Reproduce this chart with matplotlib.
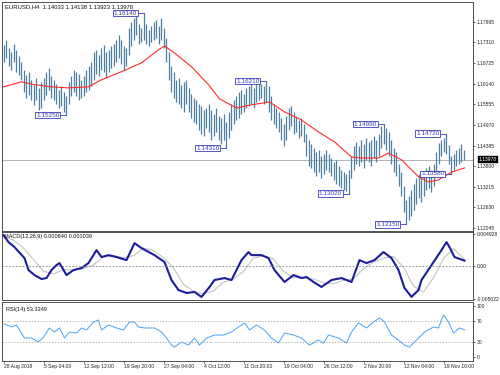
import matplotlib
matplotlib.use('Agg')
import matplotlib.pyplot as plt
import matplotlib.transforms as mtransforms

# ---------------- data ----------------
highs = [1.1724, 1.1738, 1.1716, 1.1704, 1.1727, 1.1710, 1.1693, 1.1676, 1.1653, 1.1639,
         1.1648, 1.1625, 1.1611, 1.1630, 1.1602, 1.1619, 1.1630, 1.1648, 1.1659, 1.1636,
         1.1625, 1.1613, 1.1596, 1.1608, 1.1591, 1.1579, 1.1619, 1.1636, 1.1653, 1.1648,
         1.1642, 1.1625, 1.1636, 1.1653, 1.1665, 1.1676, 1.1704, 1.1710, 1.1696, 1.1716,
         1.1724, 1.1704, 1.1710, 1.1721, 1.1727, 1.1738, 1.1753, 1.1738, 1.1721, 1.1716,
         1.1772, 1.1790, 1.1801, 1.1806, 1.1784, 1.1772, 1.1814, 1.1784, 1.1767, 1.1778,
         1.1790, 1.1795, 1.1778, 1.1801, 1.1772, 1.1744, 1.1704, 1.1665, 1.1648, 1.1625,
         1.1630, 1.1611, 1.1619, 1.1625, 1.1602, 1.1585, 1.1574, 1.1568, 1.1557, 1.1551,
         1.1540, 1.1545, 1.1557, 1.1540, 1.1528, 1.1545, 1.1523, 1.1517, 1.1528, 1.1506,
         1.1534, 1.1557, 1.1568, 1.1579, 1.1591, 1.1596, 1.1585, 1.1602, 1.1608, 1.1613,
         1.1602, 1.1619, 1.1613, 1.1613, 1.1608, 1.1621, 1.1608, 1.1579, 1.1557, 1.1545,
         1.1534, 1.1517, 1.1500, 1.1523, 1.1545, 1.1551, 1.1534, 1.1523, 1.1511, 1.1517,
         1.1500, 1.1472, 1.1455, 1.1443, 1.1432, 1.1420, 1.1426, 1.1409, 1.1415, 1.1426,
         1.1415, 1.1403, 1.1392, 1.1398, 1.1381, 1.1369, 1.1364, 1.1358, 1.1370, 1.1409,
         1.1437, 1.1449, 1.1437, 1.1455, 1.1443, 1.1460, 1.1449, 1.1455, 1.1466, 1.1455,
         1.1472, 1.1494, 1.1499, 1.1488, 1.1477, 1.1455, 1.1432, 1.1420, 1.1386, 1.1364,
         1.1324, 1.1284, 1.1295, 1.1312, 1.1329, 1.1346, 1.1358, 1.1352, 1.1364, 1.1375,
         1.1381, 1.1369, 1.1386, 1.1420, 1.1445, 1.1455, 1.1460, 1.1472, 1.1440, 1.1409,
         1.1415, 1.1426, 1.1432, 1.1443, 1.1426]
lows = [1.1676, 1.1687, 1.1665, 1.1653, 1.1676, 1.1647, 1.1639, 1.1625, 1.1591, 1.1574,
        1.1582, 1.1568, 1.1554, 1.1568, 1.1540, 1.1545, 1.1568, 1.1582, 1.1596, 1.1574,
        1.1568, 1.1557, 1.1545, 1.1551, 1.1534, 1.1525, 1.1557, 1.1579, 1.1591, 1.1579,
        1.1568, 1.1574, 1.1579, 1.1591, 1.1596, 1.1608, 1.1625, 1.1642, 1.1636, 1.1653,
        1.1648, 1.1630, 1.1648, 1.1659, 1.1665, 1.1676, 1.1687, 1.1670, 1.1653, 1.1665,
        1.1696, 1.1721, 1.1738, 1.1753, 1.1727, 1.1733, 1.1738, 1.1727, 1.1721, 1.1733,
        1.1738, 1.1744, 1.1727, 1.1738, 1.1716, 1.1676, 1.1625, 1.1591, 1.1574, 1.1562,
        1.1557, 1.1545, 1.1534, 1.1557, 1.1534, 1.1517, 1.1506, 1.1500, 1.1483, 1.1472,
        1.1466, 1.1488, 1.1477, 1.1455, 1.1466, 1.1477, 1.1455, 1.1443, 1.1455, 1.1431,
        1.1460, 1.1483, 1.1500, 1.1511, 1.1517, 1.1528, 1.1534, 1.1545, 1.1551, 1.1557,
        1.1545, 1.1562, 1.1568, 1.1574, 1.1557, 1.1562, 1.1534, 1.1511, 1.1500, 1.1488,
        1.1477, 1.1455, 1.1437, 1.1455, 1.1483, 1.1494, 1.1472, 1.1477, 1.1460, 1.1466,
        1.1449, 1.1409, 1.1380, 1.1375, 1.1364, 1.1352, 1.1364, 1.1346, 1.1358, 1.1369,
        1.1364, 1.1352, 1.1341, 1.1329, 1.1324, 1.1318, 1.1312, 1.1310, 1.1302, 1.1346,
        1.1369, 1.1386, 1.1381, 1.1392, 1.1375, 1.1398, 1.1392, 1.1381, 1.1403, 1.1392,
        1.1409, 1.1432, 1.1443, 1.1426, 1.1409, 1.1386, 1.1364, 1.1352, 1.1324, 1.1295,
        1.1250, 1.1215, 1.1227, 1.1239, 1.1256, 1.1273, 1.1290, 1.1278, 1.1295, 1.1312,
        1.1318, 1.1307, 1.1324, 1.1352, 1.1386, 1.1409, 1.1420, 1.1415, 1.1385, 1.1358,
        1.1369, 1.1381, 1.1386, 1.1392, 1.1398]

ma_idx = [0, 7.2, 12.4, 19.2, 26, 34, 39.2, 47.2, 55.2, 62, 64.4, 68.4, 75.2, 82,
          86.4, 93.2, 99.2, 106.4, 112.4, 119.2, 126, 132.4, 139.2, 143.2, 150, 154,
          159.2, 166, 170, 174, 179.2, 184.4]
ma_val = [1.1605, 1.1619, 1.1611, 1.1605, 1.1602, 1.1605, 1.1625, 1.1648, 1.1673, 1.1710,
          1.1721, 1.1701, 1.1662, 1.1611, 1.1571, 1.1545, 1.1554, 1.1562, 1.1534, 1.1511,
          1.1477, 1.1449, 1.1406, 1.1403, 1.1403, 1.1417, 1.1398, 1.1350, 1.1335, 1.1341,
          1.1363, 1.1375]

macd_idx = [0, 2, 4.4, 8.4, 10, 12.4, 15.2, 17.2, 19.2, 21.2, 22.4, 25.2, 28, 31.2, 34,
            37.2, 39.2, 42, 45.2, 49.2, 52.4, 55.2, 60.4, 64.4, 67.2, 70, 73.2, 76.4,
            79.2, 82.4, 84.4, 88.4, 91.2, 95.2, 98, 99.2, 103.2, 106, 108.4, 112.4, 116,
            119.2, 121.2, 124, 127.2, 131.2, 135.2, 139.2, 142.4, 145.2, 148.4, 152,
            155.2, 158, 160.4, 163.2, 166, 167.2, 171.2, 175.2, 177.2, 178.4, 180.4, 184.4]
macd_val = [0.00477, 0.00370, 0.00293, 0.00123, -0.00062, -0.00139, -0.00200, -0.00185,
            -0.00062, 0.00015, 0.00046, -0.00139, -0.00062, -0.00031, 0.00046, 0.00246,
            0.00139, 0.00169, 0.00139, 0.00092, 0.00354, 0.00277, 0.00169, 0.00062,
            -0.00216, -0.00370, -0.00416, -0.00400, -0.00477, -0.00323, -0.00216, -0.00185,
            -0.00216, 0.00092, 0.00216, 0.00169, 0.00169, 0.00123, -0.00062, -0.00246,
            -0.00139, -0.00185, -0.00169, -0.00246, -0.00323, -0.00216, -0.00185, -0.00246,
            0.00092, 0.00046, 0.00092, 0.00216, 0.00123, -0.00062, -0.00339, -0.00477,
            -0.00370, -0.00216, 0.00015, 0.00246, 0.00370, 0.00293, 0.00139, 0.00084]

sig_idx = [0, 4, 8, 12, 16, 20, 24, 28, 32, 36, 40, 44, 48, 52, 56, 60, 64, 68, 72, 76,
           80, 84, 88, 92, 96, 100, 104, 108, 112, 116, 120, 124, 128, 132, 136, 140, 144,
           148, 152, 156, 160, 164, 168, 172, 176, 180, 184.4]
sig_val = [0.0045, 0.0040, 0.0028, 0.0010, -0.0008, -0.0012, -0.0006, -0.0006, -0.0004,
           0.0002, 0.0014, 0.0016, 0.0013, 0.0016, 0.0028, 0.0024, 0.0013, -0.0003,
           -0.0028, -0.0039, -0.0043, -0.0038, -0.0025, -0.0020, -0.0008, 0.0012, 0.0016,
           0.0011, -0.0008, -0.0018, -0.0018, -0.0020, -0.0026, -0.0027, -0.0022, -0.0020,
           -0.0004, 0.0006, 0.0012, 0.0015, -0.0002, -0.0031, -0.0040, -0.0018, 0.0012,
           0.0027, 0.00104]

rsi_idx = [0.4, 3.2, 5.2, 8.4, 11.2, 14, 16, 18.4, 20.4, 22.4, 24.4, 26.4, 29.2, 31.2,
           33.2, 36, 38, 39.2, 42, 45.2, 48, 50.4, 52.4, 54, 56.4, 60.4, 63.2, 65.2, 67.2,
           68.4, 71.2, 74, 76.4, 78.4, 81.2, 84.4, 88, 91.2, 94, 96.4, 98.4, 101.2, 104.4,
           107.2, 110, 112.4, 116, 119.2, 122.4, 126, 128, 130, 134, 137.2, 139.2, 142,
           145.2, 148, 150.4, 152.4, 155.2, 158, 160.4, 162.4, 166, 168.4, 172, 174, 176,
           178, 180, 182.4, 184.4]
rsi_val = [64.7, 58.8, 62.7, 37.3, 37.3, 29.4, 39.2, 56.9, 49.0, 56.9, 37.3, 49.0, 47.0,
           56.9, 52.9, 68.6, 72.5, 52.9, 62.7, 56.9, 52.9, 68.6, 68.6, 58.8, 56.9, 56.9,
           49.0, 37.3, 23.5, 19.6, 29.4, 23.5, 37.3, 23.5, 37.3, 43.1, 43.1, 49.0, 58.8,
           66.7, 52.9, 62.7, 52.9, 37.3, 27.5, 47.0, 43.1, 37.3, 23.5, 33.3, 27.5, 43.1,
           37.3, 27.5, 49.0, 66.7, 56.9, 68.6, 76.5, 68.6, 43.1, 33.3, 23.5, 19.6, 37.3,
           49.0, 58.8, 56.9, 82.4, 68.6, 47.0, 56.9, 53.33]

pivot_bars = [56, 25, 89, 105, 138, 152, 161, 177, 179]
pivot_vals = [1.18140, 1.15250, 1.14310, 1.16210, 1.13020, 1.14990, 1.12150, 1.14720, 1.13580]

price_ticks = [1.17895, 1.17310, 1.16725, 1.16140, 1.15555, 1.14970, 1.14385, 1.13800,
               1.13215, 1.12630, 1.12045]
macd_ticks = [0.004928, 0.0, -0.005022]
macd_tick_labels = ['0.004928', '0.00', '-0.005022']
rsi_ticks = [100, 70, 30, 0]
time_labels = ['28 Aug 2018', '5 Sep 04:00', '12 Sep 12:00', '19 Sep 20:00', '27 Sep 04:00',
               '4 Oct 12:00', '11 Oct 20:00', '19 Oct 04:00', '26 Oct 12:00', '2 Nov 20:00',
               '12 Nov 04:00', '19 Nov 16:00']
last_price = 1.13978
title_text = 'EURUSD,H4  1.14033 1.14138 1.13923 1.13978'
macd_text = 'MACD(12,26,9) 0.000840 0.001039'
rsi_text = 'RSI(14) 53.3349'

# ---------------- style ----------------
plt.rcParams['font.family'] = ['Liberation Sans', 'DejaVu Sans']
BAR_C = '#4f80a2'
FRAME_C = '#505050'
LBL_C = '#3a3ab8'

fig = plt.figure(figsize=(5, 3.75), dpi=100)
fig.patch.set_facecolor('white')
L, W = 0.004, 0.942
ax1 = fig.add_axes([L, 0.384, W, 0.611])
ax2 = fig.add_axes([L, 0.199, W, 0.183])
ax3 = fig.add_axes([L, 0.037, W, 0.158])

n = len(highs)
idx = list(range(n))
XMIN, XMAX = -0.6, 187.8

for ax in (ax1, ax2, ax3):
    ax.set_xlim(XMIN, XMAX)
    ax.yaxis.tick_right()
    ax.tick_params(axis='y', length=1.5, width=0.5, labelsize=3.6, pad=1.2,
                   colors='#222222')
    for s in ax.spines.values():
        s.set_color(FRAME_C)
        s.set_linewidth(0.7)
    ax.set_xticks([])

# main price panel
ax1.vlines(idx, lows, highs, color=BAR_C, lw=0.9)
ax1.plot(ma_idx, ma_val, color='#ff2a2a', lw=0.8)
ax1.axhline(last_price, color='#a8a8a8', lw=0.6, zorder=0)
ax1.set_ylim(1.1196, 1.1846)
ax1.set_yticks(price_ticks)
ax1.set_yticklabels([f'{v:.5f}' for v in price_ticks])
ax1.text(0.006, 0.988, title_text, transform=ax1.transAxes, ha='left', va='top',
         fontsize=4.2, color='#111111')
tr = mtransforms.blended_transform_factory(ax1.transAxes, ax1.transData)
ax1.text(1.012, last_price, f'{last_price:.5f}', transform=tr, ha='left', va='center',
         fontsize=3.6, color='white',
         bbox=dict(boxstyle='square,pad=0.2', fc='black', ec='black', lw=0.3))

gap = 2.0
for b, v in zip(pivot_bars, pivot_vals):
    ax1.plot([b - gap, b], [v, v], color=LBL_C, lw=0.6)
    ax1.text(b - gap - 0.6, v, f'{v:.5f}', ha='right', va='center', fontsize=4.6,
             color=LBL_C,
             bbox=dict(boxstyle='square,pad=0.12', fc='white', ec=LBL_C, lw=0.6))

# MACD panel
ax2.plot(sig_idx, sig_val, color='#c4c4c4', lw=0.8)
ax2.plot(macd_idx, macd_val, color='#1c1c9c', lw=1.5)
ax2.axhline(0, color='#808080', lw=0.6, ls=(0, (2, 2)))
ax2.set_ylim(-0.0053, 0.0053)
ax2.set_yticks(macd_ticks)
ax2.set_yticklabels(macd_tick_labels)
ax2.text(0.004, 0.96, macd_text, transform=ax2.transAxes, ha='left', va='top',
         fontsize=4.0, color='#111111')

# RSI panel
ax3.plot(rsi_idx, rsi_val, color='#48a4f4', lw=0.7)
for lv in (70, 30):
    ax3.axhline(lv, color='#a0a0a0', lw=0.6, ls=(0, (1.5, 2)))
ax3.set_ylim(-7.8, 107.8)
ax3.set_yticks(rsi_ticks)
ax3.set_yticklabels([str(v) for v in rsi_ticks])
ax3.text(0.008, 0.92, rsi_text, transform=ax3.transAxes, ha='left', va='top',
         fontsize=4.0, color='#111111')

# time axis labels
trx = mtransforms.blended_transform_factory(ax3.transData, ax3.transAxes)
for k, lab in enumerate(time_labels):
    xpos = k * 16
    ax3.plot([xpos, xpos], [0, -0.04], transform=trx, color=FRAME_C, lw=0.5,
             clip_on=False)
    ax3.text(xpos + 0.4, -0.05, lab, transform=trx, ha='left', va='top', fontsize=3.6,
             color='#222222')

fig.savefig('out.png', dpi=100)
